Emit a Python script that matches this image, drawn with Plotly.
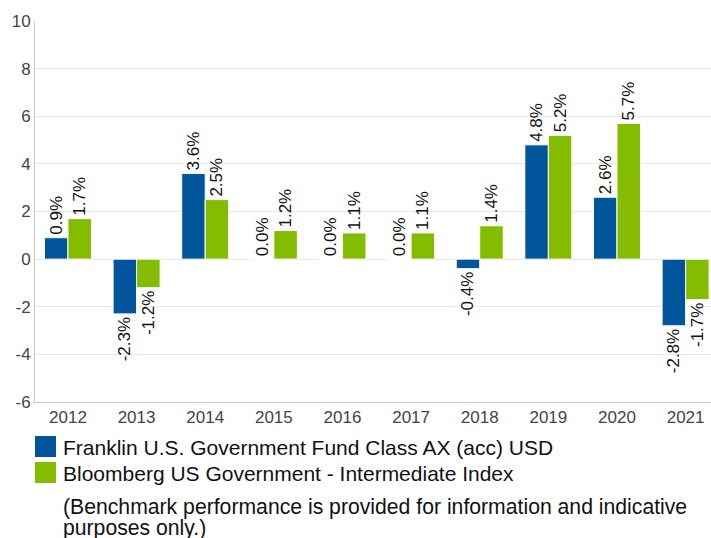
import plotly.graph_objects as go

years = ["2012", "2013", "2014", "2015", "2016", "2017", "2018", "2019", "2020", "2021"]
fund = [0.9, -2.3, 3.6, 0.0, 0.0, 0.0, -0.4, 4.8, 2.6, -2.8]
bench = [1.7, -1.2, 2.5, 1.2, 1.1, 1.1, 1.4, 5.2, 5.7, -1.7]
series_names = ["Franklin U.S. Government Fund Class AX (acc) USD",
                "Bloomberg US Government - Intermediate Index"]
y_ticks = [-6, -4, -2, 0, 2, 4, 6, 8, 10]
y_tick_labels = ["-6", "-4", "-2", "0", "2", "4", "6", "8", "10"]
note_lines = ["(Benchmark performance is provided for information and indicative",
              "purposes only.)"]

BLUE = "#00559b"
GREEN = "#84bd00"
FONT = "Liberation Sans, Arial, sans-serif"

W, H = 711, 538
L, T, B = 35, 21, 136
PH = H - T - B  # plot height px
PW = W - L


def px_x(x):
    return (x - L) / PW


def px_y(y):
    return (H - B - y) / PH


fig = go.Figure()
for name, vals, col in [(series_names[0], fund, BLUE), (series_names[1], bench, GREEN)]:
    fig.add_trace(go.Bar(
        x=years, y=vals, name=name,
        marker=dict(color=col, line=dict(color="white", width=1)),
        text=[f"{v:.1f}%" for v in vals],
        textposition="outside", textangle=-90,
        textfont=dict(family=FONT, size=17, color="#111111"),
        cliponaxis=False, showlegend=False,
    ))

fig.update_layout(
    width=W, height=H,
    margin=dict(l=L, r=0, t=T, b=B, autoexpand=False),
    paper_bgcolor="white", plot_bgcolor="white",
    barmode="group", bargap=0.315, bargroupgap=0.0,
    font=dict(family=FONT, size=17, color="#444444"),
    showlegend=False,
    uniformtext=dict(minsize=17, mode="show"),
)
fig.update_xaxes(
    range=[-0.48, 9.37], showline=True, linecolor="#c8c8c8", linewidth=1,
    ticks="", tickfont=dict(size=17, color="#444444"), showgrid=False,
    automargin=False,
)
fig.update_yaxes(
    range=[-6, 10], tickvals=y_ticks, ticktext=y_tick_labels,
    showline=True, linecolor="#c8c8c8", linewidth=1,
    gridcolor="#e8e8e8", zeroline=True, zerolinecolor="#e8e8e8", zerolinewidth=1,
    tickfont=dict(size=17, color="#444444"), automargin=False,
)

# legend (squares + labels)
for i, (name, col) in enumerate([(series_names[0], BLUE), (series_names[1], GREEN)]):
    top = 436 + i * 26
    fig.add_shape(type="rect", xref="paper", yref="paper",
                  x0=px_x(35), x1=px_x(56), y0=px_y(top + 21), y1=px_y(top),
                  fillcolor=col, line=dict(width=0))
    fig.add_annotation(text=name, xref="paper", yref="paper",
                       x=px_x(61), y=px_y(top + 11), xanchor="left", yanchor="middle",
                       showarrow=False, font=dict(family=FONT, size=21, color="#111111"))

for i, line in enumerate(note_lines):
    fig.add_annotation(text=line, xref="paper", yref="paper",
                       x=px_x(61), y=px_y(507 + i * 21), xanchor="left", yanchor="middle",
                       showarrow=False, font=dict(family=FONT, size=21.2, color="#111111"))

fig.write_html("out.html",
               config={"displayModeBar": False},
               post_script="document.body.style.margin='0';document.body.style.overflow='hidden';")
